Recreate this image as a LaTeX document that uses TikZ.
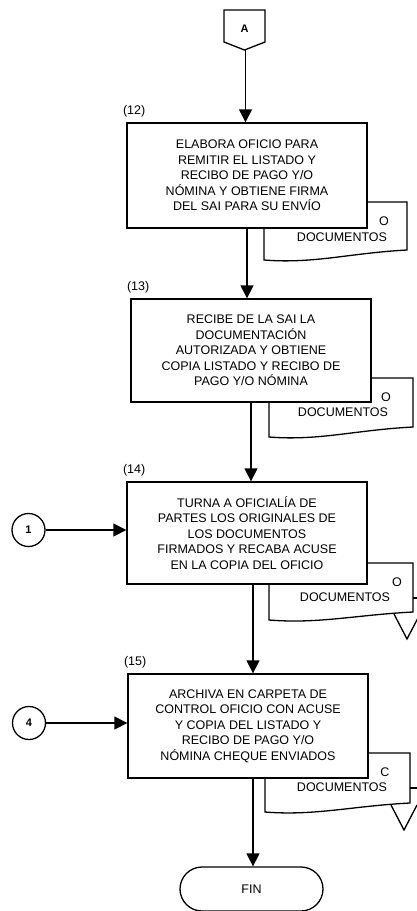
\documentclass[tikz,border=0pt]{standalone}
\usepackage{fontspec}
\setmainfont{Liberation Sans}
\usetikzlibrary{arrows.meta}
\begin{document}
\begin{tikzpicture}[x=1pt,y=-1pt,line width=1.3pt,
  >={Triangle[width=13pt,length=13pt]},
  txt/.style={font=\fontsize{12.5}{15.5}\selectfont},
  proc/.style={draw,fill=white,align=center,inner sep=0pt,txt,minimum width=240pt},
  lab/.style={anchor=base west,txt,inner sep=0pt},
  conn/.style={draw,circle,minimum size=33pt,inner sep=0pt,font=\bfseries\fontsize{11}{11}\selectfont},
  docbox/.style={draw,fill=white,line width=1.3pt}]
\useasboundingbox (0,0) rectangle (417,911);
\clip (0,0) rectangle (417,911);

% off-page connector A
\draw (224,10) -- (265,10) -- (265,42) -- (244.5,50) -- (224,42) -- cycle;
\node[font=\bfseries\fontsize{11}{11}\selectfont] (A) at (244.5,29) {A};
\coordinate (Abot) at (245.5,50);

% documents (behind boxes)
\draw[docbox] (264,202) -- (407,202) -- (407,250) .. controls (350,253) and (314,264) .. (264,260) -- cycle;
\node[txt] (d12a) at (384,221) {O};
\node[txt] (d12b) at (342,237) {DOCUMENTOS};

\draw[docbox] (269,378) -- (413,378) -- (413,427) .. controls (355,430) and (319,441) .. (269,437) -- cycle;
\node[txt] (d13a) at (386,397) {O};
\node[txt] (d13b) at (343,412) {DOCUMENTOS};

\draw[docbox] (269,563) -- (413,563) -- (413,612) .. controls (355,615) and (319,624) .. (269,620) -- cycle;
\node[txt] (d14a) at (397,582) {O};
\node[txt] (d14b) at (345,597) {DOCUMENTOS};
\draw (413,598) -- (425,598);
\draw (394,614) -- (407,639) -- (420,614);

\draw[docbox] (265,753) -- (410,753) -- (410,803) .. controls (352,806) and (315,816) .. (265,812) -- cycle;
\node[txt] (d15a) at (385,772) {C};
\node[txt] (d15b) at (342,787) {DOCUMENTOS};
\draw (410,788) -- (425,788);
\draw (391,805) -- (404,830) -- (417,805);

% process boxes
\node[proc,minimum height=105pt] (b12) at (247,175.5) {ELABORA OFICIO PARA\\REMITIR EL LISTADO Y\\RECIBO DE PAGO Y/O\\NÓMINA Y OBTIENE FIRMA\\DEL SAI PARA SU ENVÍO};
\node[proc,minimum height=103pt] (b13) at (251,350.5) {RECIBE DE LA SAI LA\\DOCUMENTACIÓN\\AUTORIZADA Y OBTIENE\\COPIA LISTADO Y RECIBO DE\\PAGO Y/O NÓMINA};
\node[proc,minimum height=102pt] (b14) at (247,533) {TURNA A OFICIALÍA DE\\PARTES LOS ORIGINALES DE\\LOS DOCUMENTOS\\FIRMADOS Y RECABA ACUSE\\EN LA COPIA DEL OFICIO};
\node[proc,minimum height=104pt] (b15) at (248,726) {ARCHIVA EN CARPETA DE\\CONTROL OFICIO CON ACUSE\\Y COPIA DEL LISTADO Y\\RECIBO DE PAGO Y/O\\NÓMINA CHEQUE ENVIADOS};

% step labels
\node[lab] (l12) at ([xshift=-4pt,yshift=8pt]b12.north west) {(12)};
\node[lab] (l13) at ([xshift=-4pt,yshift=8pt]b13.north west) {(13)};
\node[lab] (l14) at ([xshift=-4pt,yshift=8pt]b14.north west) {(14)};
\node[lab] (l15) at ([xshift=-4pt,yshift=8pt]b15.north west) {(15)};

% terminal
\node[draw,rounded corners=22pt,minimum width=143pt,minimum height=44pt,txt] (fin) at (251.5,889) {FIN};

% connectors
\node[conn] (c1) at (28.5,530) {1};
\node[conn] (c4) at (29,723) {4};

% flow lines
\draw[->] (Abot) -- (Abot |- b12.north);
\draw[->] (b12.south) -- (b12.south |- b13.north);
\draw[->] (b13.south) -- (b13.south |- b14.north);
\draw[->] ([xshift=6pt]b14.south) -- ([xshift=6pt]b14.south |- b15.north);
\draw[->] ([xshift=5pt]b15.south) -- ([xshift=5pt]b15.south |- fin.north);
\draw[->] (c1) -- (c1 -| b14.west);
\draw[->] (c4) -- (c4 -| b15.west);
\end{tikzpicture}
\end{document}
